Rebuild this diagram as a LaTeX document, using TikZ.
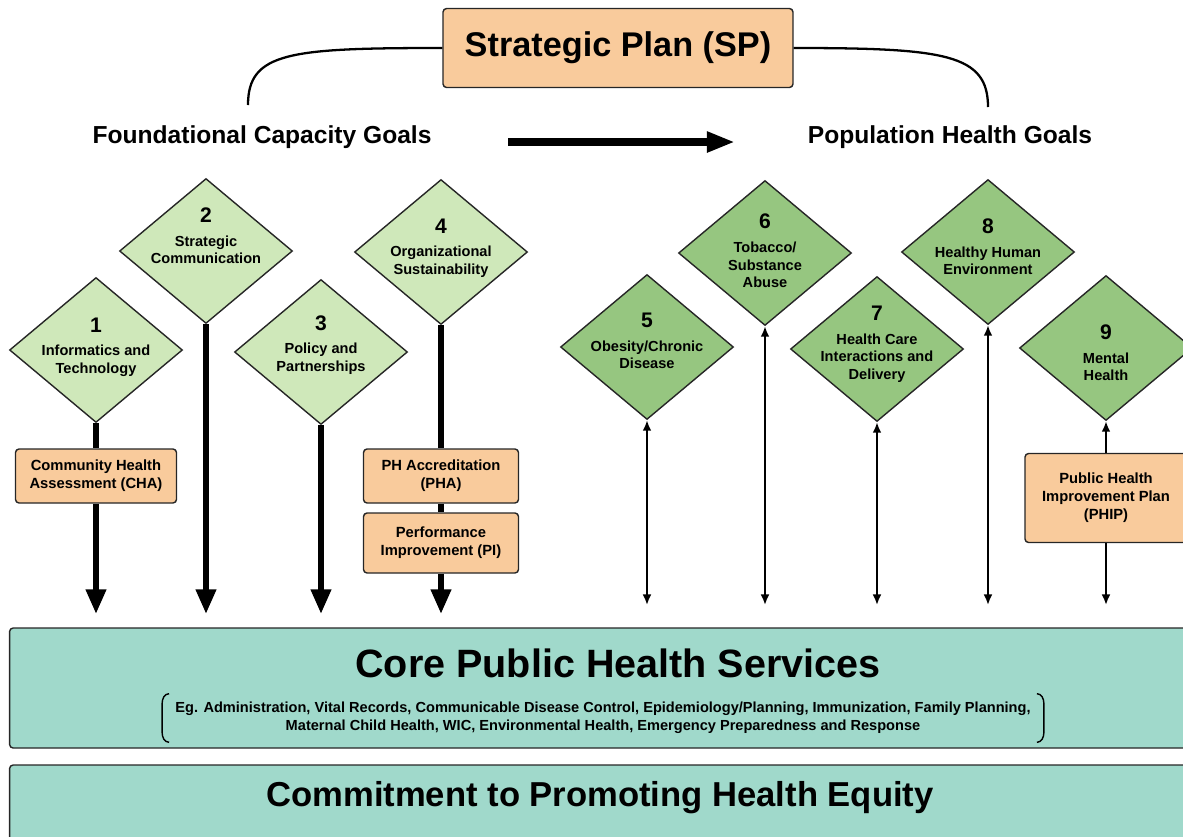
\documentclass[tikz,border=0pt]{standalone}
\usepackage{fontspec}
\setmainfont{Liberation Sans}
\usetikzlibrary{positioning,shapes.geometric,arrows.meta}

\definecolor{peach}{RGB}{249,203,156}
\definecolor{palegreen}{RGB}{207,232,186}
\definecolor{goalgreen}{RGB}{150,198,128}
\definecolor{coreteal}{RGB}{160,217,203}

\begin{document}
\begin{tikzpicture}[
  x=0.02cm, y=-0.02cm,
  planbox/.style={rectangle, rounded corners=2pt, draw=black!85, line width=0.8pt, fill=peach, align=center, inner sep=0pt, font=\bfseries\fontsize{8.4}{10.2}\selectfont},
  capgoal/.style={diamond, draw=black!85, line width=0.8pt, fill=palegreen, minimum width=3.46cm, minimum height=2.9cm, inner sep=0pt},
  popgoal/.style={capgoal, fill=goalgreen},
  goaltext/.style={align=center, font=\bfseries\fontsize{8.3}{10}\selectfont},
  headtext/.style={font=\bfseries\fontsize{14}{16}\selectfont},
  servicebox/.style={rectangle, rounded corners=2pt, draw=black!85, line width=0.8pt, fill=coreteal, minimum width=23.7cm},
  feed/.style={-{Triangle[length=14pt,width=11pt]}, line width=3.3pt},
  feedline/.style={line width=3.3pt},
  link/.style={{Latex[length=6pt,width=5pt]}-{Latex[length=6pt,width=5pt]}, line width=1.1pt},
  uplink/.style={-{Latex[length=6pt,width=5pt]}, line width=1.1pt},
  bigflow/.style={-{Triangle[length=16pt,width=11pt]}, line width=4pt},
  curve/.style={line width=1.3pt},
  bracket/.style={line width=0.8pt}
]
\useasboundingbox (0,0) rectangle (1183,836);
\clip (0,0) rectangle (1183,836);

% ===== STRATEGIC PLAN =====
\node[planbox, minimum width=7cm, minimum height=1.58cm, font=\bfseries\fontsize{19.5}{22}\selectfont] (sp) at (618,48) {Strategic Plan (SP)};
\node[headtext] (fcg) at (262,137) {Foundational Capacity Goals};
\node[headtext] (phg) at (950,137) {Population Health Goals};
\coordinate (fcgtop) at (248,105);
\coordinate (phgtop) at (988,107);
\coordinate (flowstart) at (508,142);
\coordinate (flowend) at (735,142);

\draw[curve] (sp.west) .. controls (290,48) and (248,52) .. (fcgtop);
\draw[curve] (sp.east) .. controls (945,48) and (988,54) .. (phgtop);
\draw[bigflow] (flowstart) -- (flowend);

% ===== FOUNDATIONAL CAPACITY GOALS =====
\node[capgoal, label={[goaltext, yshift=0.06cm]center:{{\fontsize{12}{13}\selectfont 1}\\[3.5pt]Informatics and\\Technology}}] (g1) at (96,350) {};
\node[capgoal, label={[goaltext, yshift=0.3cm]center:{{\fontsize{12}{13}\selectfont 2}\\[3.5pt]Strategic\\Communication}}] (g2) at (206,251) {};
\node[capgoal, label={[goaltext, yshift=0.14cm]center:{{\fontsize{12}{13}\selectfont 3}\\[3.5pt]Policy and\\Partnerships}}] (g3) at (321,352) {};
\node[capgoal, label={[goaltext, yshift=0.08cm]center:{{\fontsize{12}{13}\selectfont 4}\\[3.5pt]Organizational\\Sustainability}}] (g4) at (441,252) {};

\node[planbox, minimum width=3.22cm, minimum height=1.08cm] (cha) at (96,476) {Community Health\\Assessment (CHA)};
\node[planbox, minimum width=3.1cm, minimum height=1.08cm] (pha) at (441,476) {PH Accreditation\\(PHA)};
\node[planbox, minimum width=3.1cm, minimum height=1.2cm] (pi) at (441,543) {Performance\\Improvement (PI)};

% ===== POPULATION HEALTH GOALS =====
\node[popgoal, label={[goaltext, yshift=0.12cm]center:{{\fontsize{12}{13}\selectfont 5}\\[3.5pt]Obesity/Chronic\\Disease}}] (g5) at (647,347) {};
\node[popgoal, label={[goaltext, yshift=0.04cm]center:{{\fontsize{12}{13}\selectfont 6}\\[3.5pt]Tobacco/\\Substance\\Abuse}}] (g6) at (765,253) {};
\node[popgoal, label={[goaltext, yshift=0.1cm]center:{{\fontsize{12}{13}\selectfont 7}\\[3.5pt]Health Care\\Interactions and\\Delivery}}] (g7) at (877,349) {};
\node[popgoal, label={[goaltext, yshift=0.1cm]center:{{\fontsize{12}{13}\selectfont 8}\\[3.5pt]Healthy Human\\Environment}}] (g8) at (988,252) {};
\node[popgoal, label={[goaltext, yshift=-0.1cm]center:{{\fontsize{12}{13}\selectfont 9}\\[3.5pt]Mental\\Health}}] (g9) at (1106,348) {};

\node[planbox, minimum width=3.24cm, minimum height=1.78cm] (phip) at (1106,498) {Public Health\\Improvement Plan\\(PHIP)};

% ===== ARROW ENDS =====
\coordinate (e1) at (96,614);
\coordinate (e2) at (206,614);
\coordinate (e3) at (321,614);
\coordinate (e4) at (441,614);
\coordinate (e5) at (647,605);
\coordinate (e6) at (765,605);
\coordinate (e7) at (877,605);
\coordinate (e8) at (988,605);
\coordinate (e9) at (1106,605);

% ===== ARROWS =====
\draw[feedline] (g1.south) -- (cha.north);
\draw[feed] (cha.south) -- (e1);
\draw[feed] (g2.south) -- (e2);
\draw[feed] (g3.south) -- (e3);
\draw[feedline] (g4.south) -- (pha.north);
\draw[feedline] (pha.south) -- (pi.north);
\draw[feed] (pi.south) -- (e4);

\draw[link] (g5.south) -- (e5);
\draw[link] (g6.south) -- (e6);
\draw[link] (g7.south) -- (e7);
\draw[link] (g8.south) -- (e8);
\draw[uplink] (phip.north) -- (g9.south);
\draw[uplink] (phip.south) -- (e9);

% ===== CORE SERVICES =====
\node[servicebox, minimum height=2.4cm] (core) at (602,688) {};
\node[font=\bfseries\fontsize{22.5}{26}\selectfont] (coretitle) at (618,663) {Core Public Health Services};
\node[align=center, inner xsep=0.26cm, inner ysep=0.16cm, font=\bfseries\fontsize{8.3}{10.4}\selectfont] (corelist) at (603,718)
  {Eg. Administration, Vital Records, Communicable Disease Control, Epidemiology/Planning, Immunization, Family Planning,\\
   Maternal Child Health, WIC, Environmental Health, Emergency Preparedness and Response};
\draw[bracket] ([xshift=0.14cm]corelist.north west) to[out=180,in=90] ([yshift=-0.2cm]corelist.north west)
  -- ([yshift=0.2cm]corelist.south west) to[out=270,in=180] ([xshift=0.14cm]corelist.south west);
\draw[bracket] ([xshift=-0.14cm]corelist.north east) to[out=0,in=90] ([yshift=-0.2cm]corelist.north east)
  -- ([yshift=0.2cm]corelist.south east) to[out=270,in=0] ([xshift=-0.14cm]corelist.south east);

% ===== HEALTH EQUITY =====
\node[servicebox, minimum height=2cm] (equity) at (602,815) {};
\node[font=\bfseries\fontsize{19.7}{24}\selectfont] (equitytitle) at (600,798) {Commitment to Promoting Health Equity};
\end{tikzpicture}
\end{document}
